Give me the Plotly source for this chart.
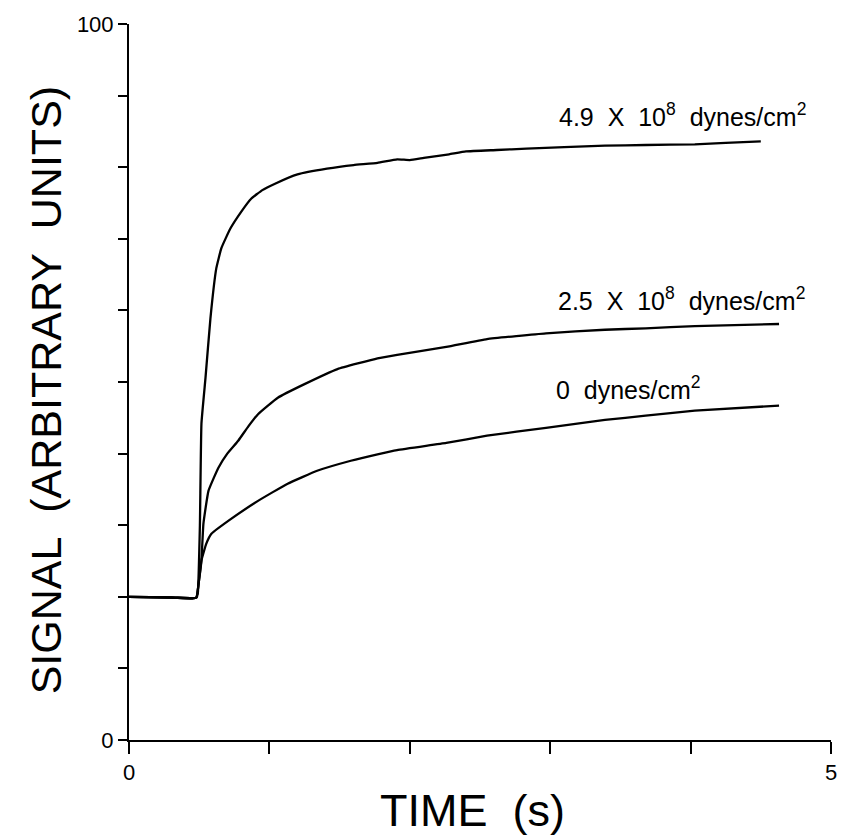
import plotly.graph_objects as go

# ---- data ----
t_high = [0, 0.30, 0.45, 0.48, 0.49, 0.505, 0.516, 0.545, 0.58, 0.622, 0.658, 0.721, 0.80, 0.87,
          0.95, 1.04, 1.20, 1.41, 1.60, 1.77, 1.91, 2.00, 2.10, 2.28, 2.40, 2.62, 2.83, 3.10,
          3.39, 3.68, 4.03, 4.25, 4.50]
v_high = [20, 19.9, 19.8, 19.9, 20.5, 30.0, 44.2, 50.6, 58.9, 65.9, 68.7, 71.4, 73.8, 75.6,
          76.8, 77.7, 79.0, 79.8, 80.3, 80.6, 81.1, 81.0, 81.3, 81.8, 82.2, 82.4, 82.6, 82.8,
          83.0, 83.1, 83.2, 83.4, 83.6]

t_mid = [0, 0.30, 0.45, 0.48, 0.50, 0.516, 0.53, 0.566, 0.636, 0.70, 0.778, 0.85, 0.919, 1.06,
         1.25, 1.485, 1.77, 1.91, 2.26, 2.55, 2.97, 3.39, 3.68, 4.03, 4.63]
v_mid = [20, 19.9, 19.8, 19.9, 22.5, 25.1, 30.2, 34.8, 38.0, 40.0, 41.8, 43.8, 45.5, 47.8,
         49.7, 51.8, 53.3, 53.8, 54.9, 56.0, 56.8, 57.3, 57.5, 57.8, 58.1]

t_zero = [0, 0.30, 0.45, 0.48, 0.50, 0.516, 0.55, 0.587, 0.707, 0.919, 1.13, 1.34, 1.58, 1.77,
          1.91, 2.26, 2.55, 2.97, 3.39, 3.68, 4.03, 4.63]
v_zero = [20, 19.9, 19.8, 19.9, 22.5, 25.1, 27.4, 28.8, 30.6, 33.4, 35.8, 37.6, 39.0, 39.9,
          40.5, 41.5, 42.5, 43.6, 44.7, 45.3, 46.0, 46.7]

labels = ["4.9\u00a0\u00a0X\u00a0\u00a010<sup>8</sup>\u00a0\u00a0dynes/cm<sup>2</sup>",
          "2.5\u00a0\u00a0X\u00a0\u00a010<sup>8</sup>\u00a0\u00a0dynes/cm<sup>2</sup>",
          "0\u00a0\u00a0dynes/cm<sup>2</sup>"]
label_t = [3.05, 3.04, 3.03]
label_v = [87.3, 61.6, 49.2]

x_major = [0, 5]
x_minor = [1, 2, 3, 4]
y_major = [0, 100]
y_minor = [10, 20, 30, 40, 50, 60, 70, 80, 90]

FONT = "Liberation Sans, Arial, sans-serif"

fig = go.Figure()
for t, v in [(t_high, v_high), (t_mid, v_mid), (t_zero, v_zero)]:
    fig.add_trace(go.Scatter(x=t, y=v, mode="lines",
                             line=dict(color="black", width=2.3, shape="spline", smoothing=0.35),
                             showlegend=False, hoverinfo="skip"))

for txt, tx, ty in zip(labels, label_t, label_v):
    fig.add_annotation(x=tx, y=ty, xref="x", yref="y", text=txt, showarrow=False,
                       xanchor="left", yanchor="middle",
                       font=dict(family=FONT, size=25, color="black"))

fig.add_annotation(x=0.49, y=-0.098, xref="paper", yref="paper",
                   text="TIME\u00a0\u00a0(s)", showarrow=False,
                   xanchor="center", yanchor="middle",
                   font=dict(family=FONT, size=45, color="black"))
fig.add_annotation(x=-0.119, y=0.489, xref="paper", yref="paper",
                   text="SIGNAL\u00a0\u00a0(ARBITRARY\u00a0\u00a0UNITS)", showarrow=False,
                   textangle=-90, xanchor="center", yanchor="middle",
                   font=dict(family=FONT, size=43, color="black"))

fig.update_layout(
    width=849, height=840,
    margin=dict(l=129, r=15, t=22, b=100),
    paper_bgcolor="white", plot_bgcolor="white",
    xaxis=dict(range=[0, 5], showgrid=False, zeroline=False, showline=True,
               linecolor="black", linewidth=2, ticks="outside", ticklen=12,
               tickwidth=1.5, tickcolor="black", tickmode="array",
               tickvals=x_major, ticktext=[str(v) for v in x_major],
               minor=dict(tickmode="array", tickvals=x_minor, ticks="outside", ticklen=12,
                          tickwidth=1.5, tickcolor="black", showgrid=False),
               tickfont=dict(family=FONT, size=22, color="black")),
    yaxis=dict(range=[0, 100], showgrid=False, zeroline=False, showline=True,
               linecolor="black", linewidth=2, ticks="outside", ticklen=9,
               tickwidth=1.5, tickcolor="black", tickmode="array",
               tickvals=y_major, ticktext=[str(v) for v in y_major],
               minor=dict(tickmode="array", tickvals=y_minor, ticks="outside", ticklen=9,
                          tickwidth=1.5, tickcolor="black", showgrid=False),
               tickfont=dict(family=FONT, size=22, color="black")),
)

fig.write_html("out.html")
